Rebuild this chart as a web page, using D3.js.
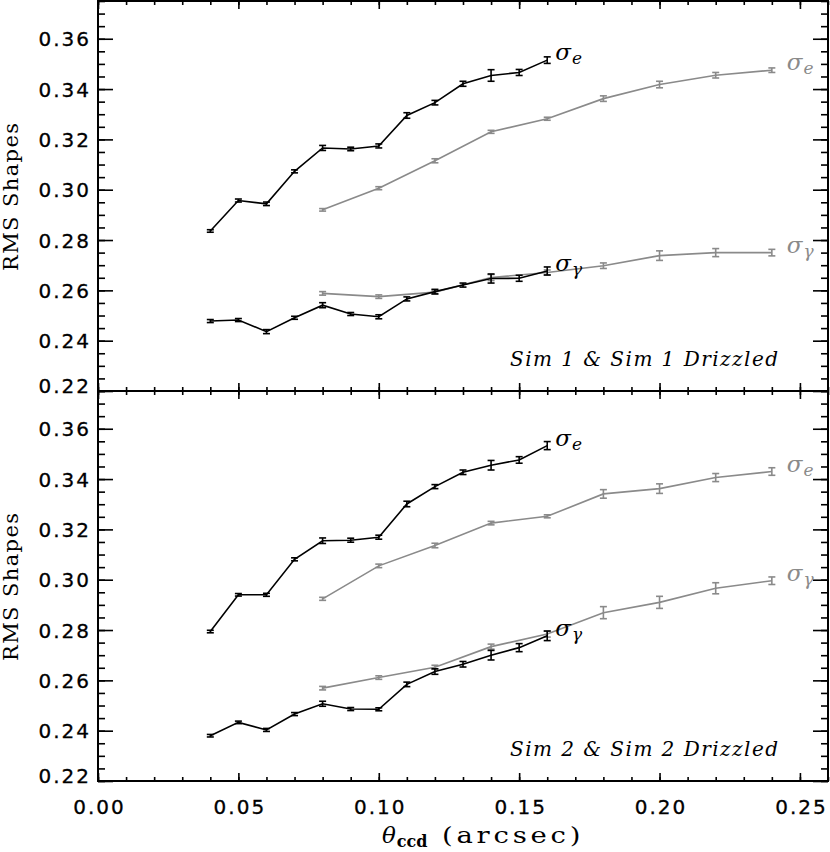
<!DOCTYPE html>
<html><head><meta charset="utf-8">
<script src="https://cdn.jsdelivr.net/npm/d3@7/dist/d3.min.js"></script>
<style>body{margin:0;background:#fff} svg{display:block}</style>
</head><body>
<svg id="chart" width="830" height="852"></svg>
<script>
// ---------- data ----------
const xSim = [0.04,0.05,0.06,0.07,0.08,0.09,0.10,0.11,0.12,0.13,0.14,0.15,0.16];
const xDrz = [0.08,0.10,0.12,0.14,0.16,0.18,0.20,0.22,0.24];

// Panel 1: Sim 1 (black) & Sim 1 Drizzled (gray)
const sim1SigE    = [0.2836,0.2957,0.2944,0.3073,0.3166,0.3162,0.3174,0.3295,0.3346,0.3421,0.3454,0.3466,0.3515];
const sim1SigEErr = [0.0005,0.0006,0.0007,0.0006,0.0010,0.0007,0.0008,0.0011,0.0009,0.0010,0.0023,0.0012,0.0013];
const sim1SigG    = [0.2478,0.2482,0.2436,0.2491,0.2541,0.2506,0.2495,0.2566,0.2595,0.2621,0.2647,0.2648,0.2677];
const sim1SigGErr = [0.0006,0.0006,0.0008,0.0006,0.0010,0.0006,0.0008,0.0008,0.0009,0.0008,0.0018,0.0012,0.0016];
const drz1SigE    = [0.2920,0.3006,0.3115,0.3230,0.3282,0.3362,0.3418,0.3455,0.3475];
const drz1SigEErr = [0.0005,0.0006,0.0008,0.0006,0.0006,0.0011,0.0013,0.0011,0.0009];
const drz1SigG    = [0.2588,0.2575,0.2593,0.2651,0.2671,0.2698,0.2738,0.2750,0.2750];
const drz1SigGErr = [0.0007,0.0007,0.0008,0.0012,0.0010,0.0011,0.0019,0.0016,0.0013];

// Panel 2: Sim 2 (black) & Sim 2 Drizzled (gray)
const sim2SigE    = [0.2794,0.2940,0.2940,0.3081,0.3155,0.3157,0.3169,0.3301,0.3370,0.3427,0.3455,0.3476,0.3533];
const sim2SigEErr = [0.0005,0.0005,0.0006,0.0006,0.0011,0.0008,0.0008,0.0011,0.0008,0.0009,0.0019,0.0013,0.0016];
const sim2SigG    = [0.2380,0.2433,0.2403,0.2466,0.2507,0.2486,0.2485,0.2584,0.2635,0.2664,0.2700,0.2730,0.2777];
const sim2SigGErr = [0.0005,0.0005,0.0006,0.0006,0.0010,0.0006,0.0006,0.0009,0.0011,0.0011,0.0019,0.0016,0.0019];
const drz2SigE    = [0.2924,0.3055,0.3136,0.3225,0.3252,0.3341,0.3362,0.3406,0.3430];
const drz2SigEErr = [0.0006,0.0007,0.0009,0.0007,0.0006,0.0017,0.0019,0.0016,0.0015];
const drz2SigG    = [0.2569,0.2611,0.2652,0.2734,0.2784,0.2869,0.2910,0.2966,0.2996];
const drz2SigGErr = [0.0007,0.0007,0.0008,0.0010,0.0012,0.0024,0.0024,0.0022,0.0015];

const panelTitles = ["Sim 1 & Sim 1 Drizzled", "Sim 2 & Sim 2 Drizzled"];
const yMajorTicks = [0.22,0.24,0.26,0.28,0.30,0.32,0.34,0.36];
const yMinorTicks = d3.range(0, 32).map(i => +(0.22 + i*0.005).toFixed(3)).filter(v => v <= 0.375);
const xMajorTicks = [0.00,0.05,0.10,0.15,0.20,0.25];
const xMinorTicks = d3.range(0, 27).map(i => +(i*0.01).toFixed(2));
const xDomain = [0, 0.26];
const yDomain = [0.22, 0.375];

// ---------- layout ----------
const svg = d3.select("#chart");
const X0 = 98, X1 = 828;
const panelsPx = [[1, 391], [391, 781]];
const GRAY = "#8a8a8a";
const x = d3.scaleLinear().domain(xDomain).range([X0, X1]);

const panels = [
  {title: panelTitles[0], series: [
    {x: xDrz, y: drz1SigE, e: drz1SigEErr, c: GRAY, lab: "e", off: 15},
    {x: xDrz, y: drz1SigG, e: drz1SigGErr, c: GRAY, lab: "γ", off: 15},
    {x: xSim, y: sim1SigE, e: sim1SigEErr, c: "#000", lab: "e", off: 8},
    {x: xSim, y: sim1SigG, e: sim1SigGErr, c: "#000", lab: "γ", off: 8}]},
  {title: panelTitles[1], series: [
    {x: xDrz, y: drz2SigE, e: drz2SigEErr, c: GRAY, lab: "e", off: 15},
    {x: xDrz, y: drz2SigG, e: drz2SigGErr, c: GRAY, lab: "γ", off: 15},
    {x: xSim, y: sim2SigE, e: sim2SigEErr, c: "#000", lab: "e", off: 8},
    {x: xSim, y: sim2SigG, e: sim2SigGErr, c: "#000", lab: "γ", off: 8}]}
];

const tickFont = "'DejaVu Sans', sans-serif";
const serif = "'DejaVu Serif', serif";

panels.forEach((p, pi) => {
  const [top, bot] = panelsPx[pi];
  const y = d3.scaleLinear().domain(yDomain).range([bot, top]);
  const g = svg.append("g");

  const clean = sel => { sel.select(".domain").remove(); sel.selectAll("line").attr("stroke", "#000").attr("stroke-width", 1.6); };

  // left major with labels
  const lm = g.append("g").attr("transform", `translate(${X0},0)`)
    .call(d3.axisLeft(y).tickValues(yMajorTicks).tickSizeInner(-15).tickSizeOuter(0).tickPadding(7).tickFormat(d3.format(".2f")));
  clean(lm);
  lm.selectAll("text").attr("font-family", tickFont).attr("font-size", 20).attr("letter-spacing", "2px")
    .attr("fill", "#000").attr("stroke", "#000").attr("stroke-width", 0.3)
    .attr("dy", d => d === 0.22 ? "0.05em" : "0.36em");
  g.append("g").attr("transform", `translate(${X0},0)`)
    .call(d3.axisLeft(y).tickValues(yMinorTicks).tickSize(-7).tickFormat("")).call(clean);
  // right
  g.append("g").attr("transform", `translate(${X1},0)`)
    .call(d3.axisRight(y).tickValues(yMajorTicks).tickSize(-15).tickFormat("")).call(clean);
  g.append("g").attr("transform", `translate(${X1},0)`)
    .call(d3.axisRight(y).tickValues(yMinorTicks).tickSize(-7).tickFormat("")).call(clean);
  // top
  g.append("g").attr("transform", `translate(0,${top})`)
    .call(d3.axisTop(x).tickValues(xMajorTicks).tickSize(-8).tickFormat("")).call(clean);
  g.append("g").attr("transform", `translate(0,${top})`)
    .call(d3.axisTop(x).tickValues(xMinorTicks).tickSize(-4).tickFormat("")).call(clean);
  // bottom
  const bm = g.append("g").attr("transform", `translate(0,${bot})`)
    .call(d3.axisBottom(x).tickValues(xMajorTicks).tickSizeInner(-8).tickSizeOuter(0).tickPadding(19)
      .tickFormat(pi === 1 ? d3.format(".2f") : ""));
  clean(bm);
  bm.selectAll("text").attr("font-family", tickFont).attr("font-size", 20).attr("letter-spacing", "2px")
    .attr("fill", "#000").attr("stroke", "#000").attr("stroke-width", 0.3)
    .attr("dy", "0.71em").attr("dx", "1px");
  g.append("g").attr("transform", `translate(0,${bot})`)
    .call(d3.axisBottom(x).tickValues(xMinorTicks).tickSize(-4).tickFormat("")).call(clean);

  // frame
  g.append("rect").attr("x", X0).attr("y", top).attr("width", X1 - X0).attr("height", bot - top)
    .attr("fill", "none").attr("stroke", "#000").attr("stroke-width", 2);

  // y title
  g.append("text").attr("transform", `translate(18,${(top + bot) / 2 + 1}) rotate(-90)`)
    .attr("text-anchor", "middle").attr("font-family", serif).attr("font-size", 21)
    .attr("textLength", 148).attr("lengthAdjust", "spacing").text("RMS Shapes");

  // series
  const line = d3.line().x(d => x(d[0])).y(d => y(d[1]));
  p.series.forEach(s => {
    const pts = s.x.map((v, i) => [v, s.y[i], s.e[i]]);
    g.append("path").datum(pts).attr("d", line).attr("fill", "none")
      .attr("stroke", s.c).attr("stroke-width", 1.6);
    const eb = g.append("g").attr("stroke", s.c).attr("stroke-width", 1.6);
    pts.forEach(d => {
      const cx = x(d[0]), y1 = y(d[1] - d[2]), y2 = y(d[1] + d[2]);
      eb.append("line").attr("x1", cx).attr("x2", cx).attr("y1", y1).attr("y2", y2);
      eb.append("line").attr("x1", cx - 3.5).attr("x2", cx + 3.5).attr("y1", y1).attr("y2", y1);
      eb.append("line").attr("x1", cx - 3.5).attr("x2", cx + 3.5).attr("y1", y2).attr("y2", y2);
    });
    const last = pts[pts.length - 1];
    const t = g.append("text").attr("x", x(last[0]) + s.off).attr("y", y(last[1]))
      .attr("font-family", serif).attr("font-style", "italic").attr("fill", s.c);
    t.append("tspan").attr("font-size", 23).text("σ");
    t.append("tspan").attr("font-size", 17).attr("dy", 4).attr("dx", 1).text(s.lab);
  });

  // panel title
  g.append("text").attr("x", 778).attr("y", bot - 25).attr("text-anchor", "end")
    .attr("font-family", serif).attr("font-style", "italic").attr("font-size", 20)
    .attr("textLength", 268).attr("lengthAdjust", "spacing").text(p.title);
});

// x title
const xt = svg.append("text").attr("x", 382).attr("y", 843).attr("font-family", serif);
xt.append("tspan").attr("font-style", "italic").attr("font-size", 23).text("θ");
xt.append("tspan").attr("font-size", 16).attr("font-weight", "bold").attr("dy", 4).attr("dx", 1).text("ccd");
svg.append("text").attr("transform", "translate(442,843) scale(1.25,1)")
  .attr("font-family", serif).attr("font-size", 22).attr("letter-spacing", "3px").text("(arcsec)");
</script>
</body></html>
